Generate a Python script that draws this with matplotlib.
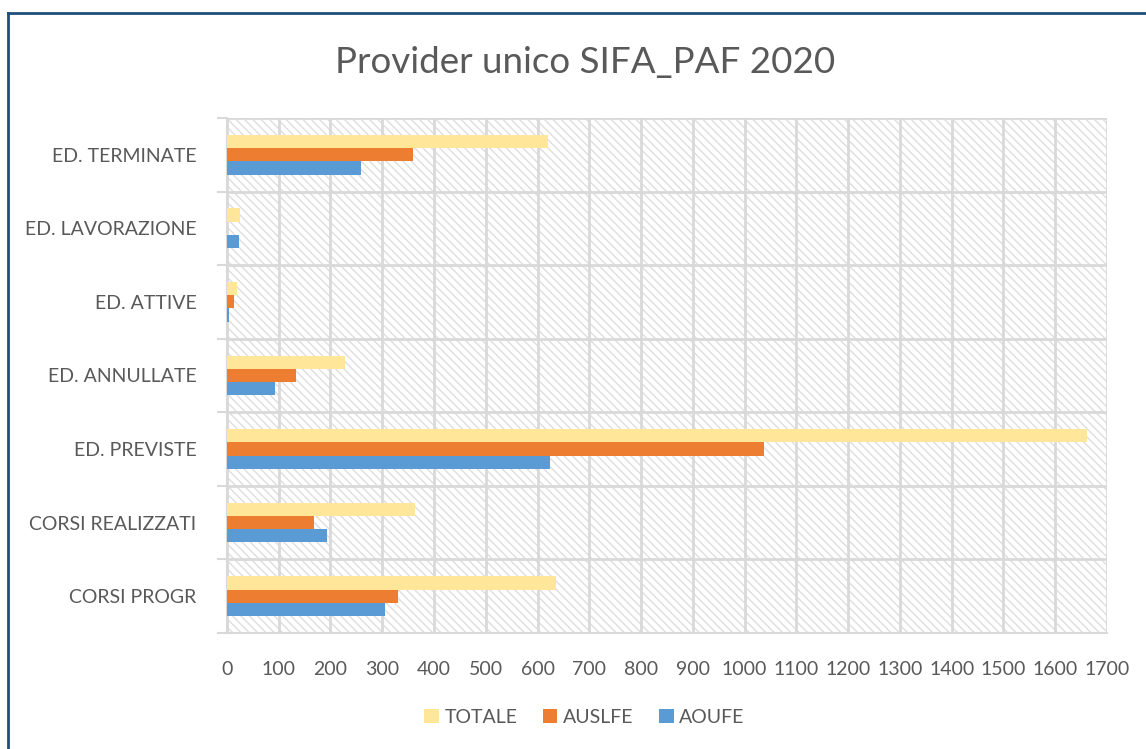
import matplotlib.pyplot as plt
import numpy as np
from matplotlib.patches import Rectangle
from matplotlib.lines import Line2D

categories = ['CORSI PROGR', 'CORSI REALIZZATI', 'ED. PREVISTE', 'ED. ANNULLATE',
              'ED. ATTIVE', 'ED. LAVORAZIONE', 'ED. TERMINATE']
totale = [636, 364, 1662, 228, 19, 26, 621]
auslfe = [330, 168, 1037, 133, 13, 1, 360]
aoufe = [306, 194, 624, 93, 5, 23, 259]
x_ticks = list(range(0, 1800, 100))

plt.rcParams['font.family'] = ['Lato', 'DejaVu Sans']
text_color = '#595959'
grid_color = '#d9d9d9'

fig = plt.figure(figsize=(11.46, 7.49), dpi=100)
ax = fig.add_axes([0.198, 0.155, 0.768, 0.6875])

# hatched plot area background
bg = Rectangle((0, 0), 1, 1, transform=ax.transAxes, facecolor='white',
               edgecolor='#dedede', hatch='\\\\\\\\', linewidth=0, zorder=0)
ax.add_patch(bg)

y = np.arange(len(categories))
h = 0.18
ax.barh(y + h, totale, height=h, color='#ffe699', label='TOTALE', zorder=3)
ax.barh(y, auslfe, height=h, color='#ed7d31', label='AUSLFE', zorder=3)
ax.barh(y - h, aoufe, height=h, color='#5b9bd5', label='AOUFE', zorder=3)

ax.set_xlim(0, 1700)
ax.set_ylim(-0.5, len(categories) - 0.5)
ax.set_xticks(x_ticks)
ax.set_xticklabels([str(v) for v in x_ticks], fontsize=14, color=text_color)
ax.set_yticks(y)
ax.set_yticklabels(categories, fontsize=14, color=text_color)
ax.set_yticks(np.arange(-0.5, len(categories), 1), minor=True)

ax.tick_params(axis='y', which='major', length=0, pad=22)
ax.tick_params(axis='y', which='minor', length=7, color=grid_color, width=1.5)
ax.tick_params(axis='x', which='major', length=0, pad=20)

ax.grid(True, axis='x', which='major', color=grid_color, linewidth=2, zorder=1)
ax.grid(True, axis='y', which='minor', color=grid_color, linewidth=2, zorder=1)

for side in ['top', 'right']:
    ax.spines[side].set_visible(False)
ax.spines['left'].set_color(grid_color)
ax.spines['left'].set_linewidth(1.5)
ax.spines['bottom'].set_color(grid_color)
ax.spines['bottom'].set_linewidth(1.5)
ax.set_axisbelow(True)

fig.text(0.511, 0.916, 'Provider unico SIFA_PAF 2020', ha='center', va='center',
         fontsize=26.5, color=text_color)

ax.legend(loc='center', bbox_to_anchor=(0.51, 0.042), bbox_transform=fig.transFigure,
          ncol=3, frameon=False, fontsize=14, labelcolor=text_color,
          handlelength=0.75, handleheight=0.75, handletextpad=0.3, columnspacing=1.3)

# chart border (only left and top visible)
fig.add_artist(Line2D([0.0066, 0.0066], [0, 0.983], transform=fig.transFigure,
                      color='#1f4e79', linewidth=2))
fig.add_artist(Line2D([0.0066, 1], [0.983, 0.983], transform=fig.transFigure,
                      color='#1f4e79', linewidth=2))

fig.savefig('out.png', dpi=100)
